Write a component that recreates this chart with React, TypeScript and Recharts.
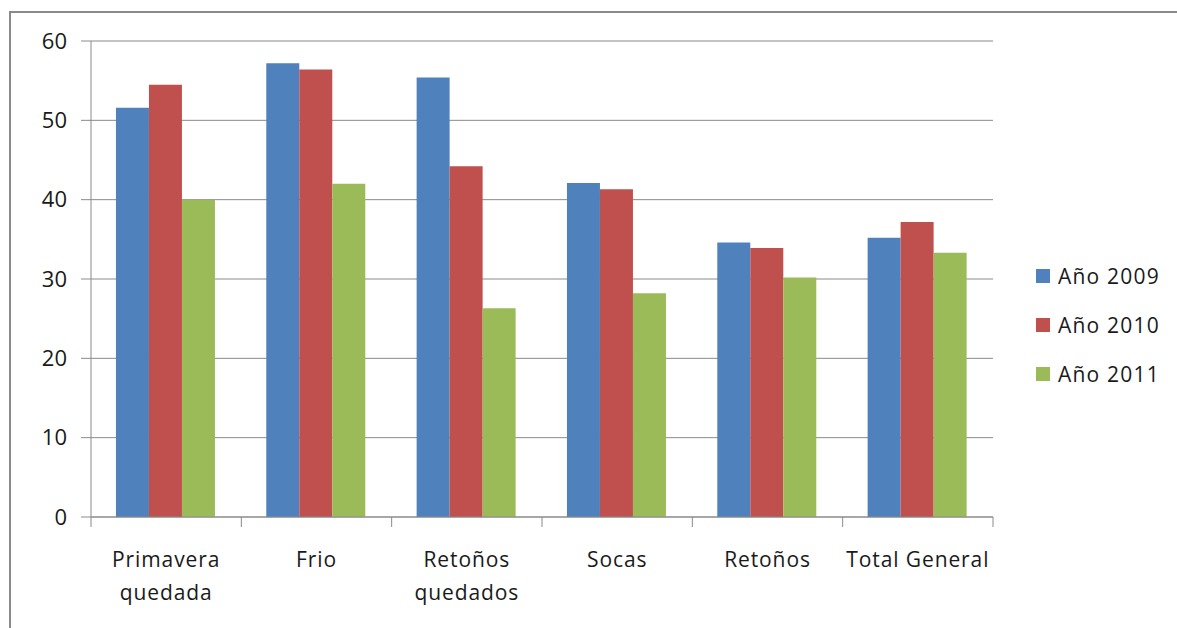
import React from "react";
import { BarChart, Bar, XAxis, YAxis, CartesianGrid, Legend } from "recharts";

const categories = ["Primavera quedada", "Frio", "Retoños quedados", "Socas", "Retoños", "Total General"];
const tickLabelLines = [["Primavera", "quedada"], ["Frio"], ["Retoños", "quedados"], ["Socas"], ["Retoños"], ["Total General"]];
const seriesNames = ["Año 2009", "Año 2010", "Año 2011"];
const values2009 = [51.6, 57.2, 55.4, 42.1, 34.6, 35.2];
const values2010 = [54.5, 56.4, 44.2, 41.3, 33.9, 37.2];
const values2011 = [40.0, 42.0, 26.3, 28.2, 30.2, 33.3];
const yTicks = [0, 10, 20, 30, 40, 50, 60];
const colors = ["#4F81BD", "#C0504D", "#9BBB59"];

const data = categories.map((c, i) => ({
  name: c,
  s2009: values2009[i],
  s2010: values2010[i],
  s2011: values2011[i],
}));

const FONT = "'Open Sans', 'Noto Sans', sans-serif";
const GRID = "#8a8a8a";
const TEXT = "#1a1a1a";

const XTick = (props: any) => {
  const { x, y, payload, index } = props;
  const half = payload && typeof payload.offset === "number" && payload.offset > 0 ? payload.offset : 75.15;
  const lines = tickLabelLines[index] || [String(payload.value)];
  const isLast = index === categories.length - 1;
  return (
    <g>
      <line x1={x - half} x2={x - half} y1={y - 10} y2={y} stroke={GRID} strokeWidth={1} />
      {isLast && <line x1={x + half} x2={x + half} y1={y - 10} y2={y} stroke={GRID} strokeWidth={1} />}
      {lines.map((l: string, k: number) => (
        <text key={k} x={x} y={y + 40 + k * 33} textAnchor="middle" fill={TEXT} fontSize={21} fontFamily={FONT} letterSpacing={0.9}>
          {l}
        </text>
      ))}
    </g>
  );
};

const LegendContent = () => (
  <div style={{ paddingLeft: 43, fontFamily: FONT }}>
    {seriesNames.map((n, i) => (
      <div key={n} style={{ height: 49, display: "flex", alignItems: "center" }}>
        <div style={{ width: 14, height: 14, flexShrink: 0, background: colors[i], marginRight: 8 }} />
        <span style={{ fontSize: 21, color: TEXT, letterSpacing: 1.2, whiteSpace: "nowrap" }}>{n}</span>
      </div>
    ))}
  </div>
);

export default function App() {
  return (
    <div style={{ position: "absolute", left: 0, top: 0, width: 1177, height: 628, overflow: "hidden" }}>
      <div
        style={{
          position: "absolute",
          left: 9,
          top: 11,
          width: 1220,
          height: 660,
          borderLeft: "2px solid #8a8a8a",
          borderTop: "2px solid #8a8a8a",
          boxSizing: "border-box",
        }}
      />
      <div style={{ position: "absolute", left: 8, top: 8 }}>
        <BarChart
          width={1169}
          height={620}
          data={data}
          margin={{ top: 33, right: 4, left: 23, bottom: 11 }}
          barCategoryGap="16.6%"
          barGap={0}
        >
          <CartesianGrid vertical={false} stroke={GRID} strokeWidth={1} />
          <XAxis
            dataKey="name"
            height={100}
            tickLine={false}
            tickSize={10}
            tickMargin={0}
            axisLine={{ stroke: GRID }}
            interval={0}
            tick={<XTick />}
          />
          <YAxis
            width={60}
            domain={[0, 60]}
            ticks={yTicks}
            tickSize={10}
            tickMargin={14}
            axisLine={{ stroke: GRID }}
            tickLine={{ stroke: GRID }}
            tick={{ fill: TEXT, fontSize: 22, fontFamily: FONT }}
          />
          <Legend
            layout="vertical"
            align="right"
            verticalAlign="top"
            content={<LegendContent />}
            wrapperStyle={{ top: 243, width: 180 }}
          />
          <Bar dataKey="s2009" name={seriesNames[0]} fill={colors[0]} isAnimationActive={false} />
          <Bar dataKey="s2010" name={seriesNames[1]} fill={colors[1]} isAnimationActive={false} />
          <Bar dataKey="s2011" name={seriesNames[2]} fill={colors[2]} isAnimationActive={false} />
        </BarChart>
      </div>
    </div>
  );
}
